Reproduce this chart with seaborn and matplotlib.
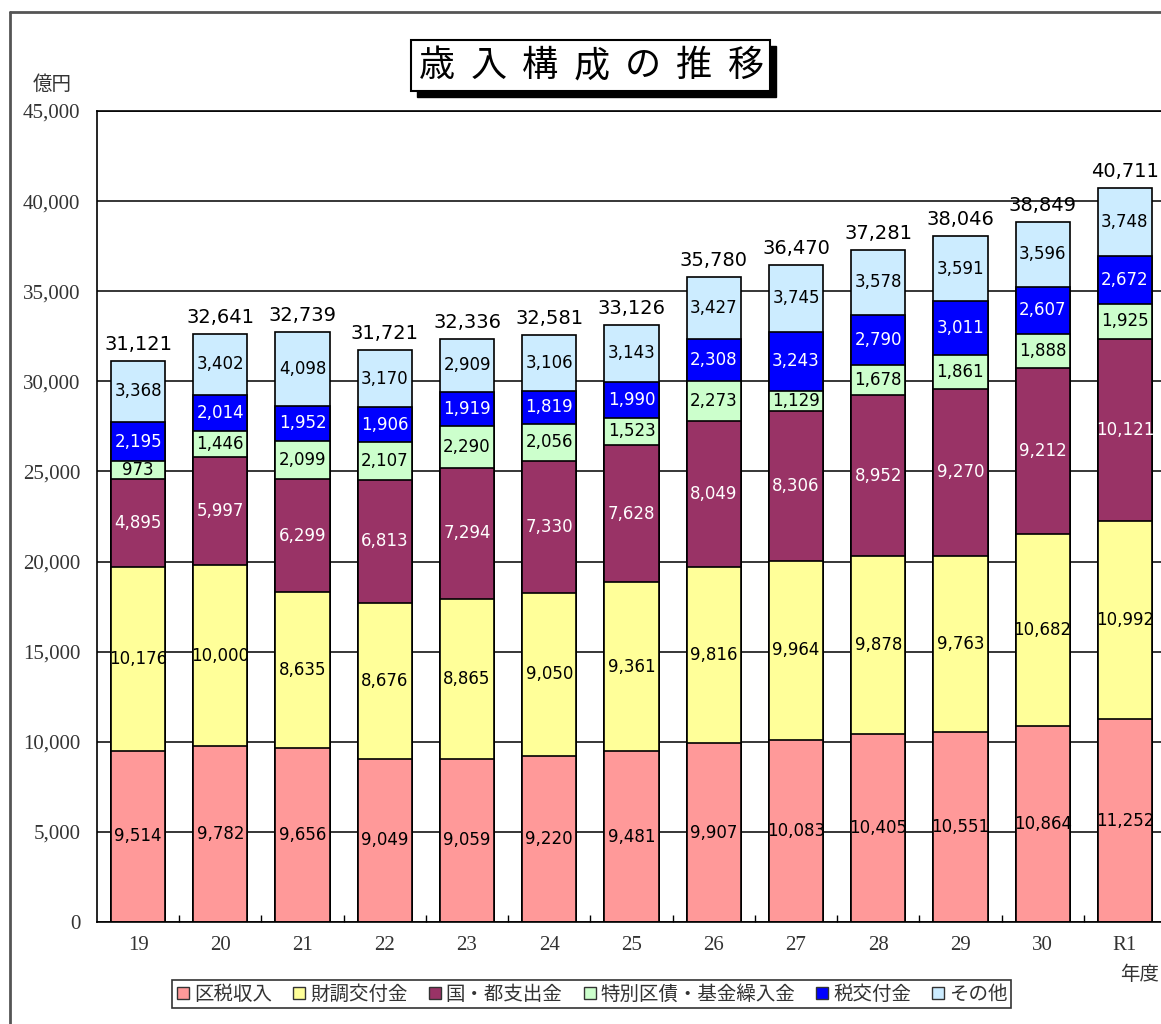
import numpy as np
import pandas as pd
import matplotlib
matplotlib.use('Agg')
import matplotlib.pyplot as plt
import seaborn as sns
from matplotlib.patches import Rectangle
from matplotlib.lines import Line2D
from matplotlib.ticker import FuncFormatter

years = ['19', '20', '21', '22', '23', '24', '25', '26', '27', '28', '29', '30', 'R1']
kuzei = [9514, 9782, 9656, 9049, 9059, 9220, 9481, 9907, 10083, 10405, 10551, 10864, 11252]
zaicho = [10176, 10000, 8635, 8676, 8865, 9050, 9361, 9816, 9964, 9878, 9763, 10682, 10992]
kokuto = [4895, 5997, 6299, 6813, 7294, 7330, 7628, 8049, 8306, 8952, 9270, 9212, 10121]
tokubetsu = [973, 1446, 2099, 2107, 2290, 2056, 1523, 2273, 1129, 1678, 1861, 1888, 1925]
zeikofu = [2195, 2014, 1952, 1906, 1919, 1819, 1990, 2308, 3243, 2790, 3011, 2607, 2672]
sonota = [3368, 3402, 4098, 3170, 2909, 3106, 3143, 3427, 3745, 3578, 3591, 3596, 3748]
totals = [31121, 32641, 32739, 31721, 32336, 32581, 33126, 35780, 36470, 37281, 38046, 38849, 40711]

series_names = ['区税収入', '財調交付金', '国・都支出金', '特別区債・基金繰入金', '税交付金', 'その他']
colors = ['#FF9999', '#FFFF99', '#993366', '#CCFFCC', '#0000FF', '#CCECFF']
label_colors = ['black', 'black', 'white', 'black', 'white', 'black']
title = '歳入構成の推移'

df = pd.DataFrame({'年度': years})
for name, vals in zip(series_names, [kuzei, zaicho, kokuto, tokubetsu, zeikofu, sonota]):
    df[name] = vals
cum = df[series_names].cumsum(axis=1)

sns.set_theme(style='white')
plt.rcParams['font.family'] = ['DejaVu Sans', 'Noto Sans CJK JP']
jp = ['Noto Sans CJK JP', 'DejaVu Sans']

W, H = 1161, 1024
fig = plt.figure(figsize=(W / 100, H / 100), dpi=100)
ax = fig.add_axes([97 / W, 1 - 922 / H, 1069 / W, 811 / H])

# stacked bars: draw cumulative totals from top layer down
for i in reversed(range(len(series_names))):
    name = series_names[i]
    sns.barplot(x=df['年度'], y=cum[name], color=colors[i], saturation=1,
                width=0.66, edgecolor='black', linewidth=1.2, ax=ax, zorder=2)

# segment labels
for i, name in enumerate(series_names):
    bottoms = cum[name] - df[name]
    for j in range(len(years)):
        ax.text(j, bottoms[j] + df[name][j] / 2, f'{df[name][j]:,}',
                ha='center', va='center', fontsize=12, color=label_colors[i], zorder=5)

# totals
for j, t in enumerate(totals):
    ax.annotate(f'{t:,}', (j, t), xytext=(0, 5), textcoords='offset points',
                ha='center', va='bottom', fontsize=14, color='black')

ax.set_ylim(0, 45000)
ax.set_xlim(-0.5, len(years) - 0.5)
ax.set_yticks(np.arange(0, 45001, 5000))
ax.yaxis.set_major_formatter(FuncFormatter(lambda v, p: f'{int(v):,}'))
ax.set_xlabel('')
ax.set_ylabel('')
ax.grid(axis='y', color='black', linewidth=1.1)
ax.set_axisbelow(True)
for s in ax.spines.values():
    s.set_color('black')
    s.set_linewidth(1.2)

ax.set_xticks(np.arange(0.5, len(years) - 1, 1), minor=True)
ax.tick_params(axis='x', which='major', length=0, pad=10)
ax.tick_params(axis='x', which='minor', direction='in', length=5, width=1, color='black', bottom=True)
ax.tick_params(axis='y', length=0, pad=12)
for lab in ax.get_xticklabels() + ax.get_yticklabels():
    lab.set_fontfamily('Liberation Serif')
    lab.set_fontsize(15)
    lab.set_color('#333333')

# units
fig.text(52 / W, 1 - 84 / H, '億円', ha='center', va='center', fontsize=14,
         family=jp, color='#333333')
fig.text(1140 / W, 1 - 975 / H, '年度', ha='center', va='center', fontsize=14,
         family=jp, color='#333333')

# title box with shadow
fig.add_artist(Rectangle((417 / W, 1 - 97 / H), 359 / W, 51 / H, transform=fig.transFigure,
                         facecolor='black', edgecolor='black'))
fig.add_artist(Rectangle((411 / W, 1 - 91 / H), 359 / W, 51 / H, transform=fig.transFigure,
                         facecolor='white', edgecolor='black', linewidth=1.5))
for k, ch in enumerate(title):
    fig.text((437 + k * 51.5) / W, 1 - 66 / H, ch, ha='center', va='center', fontsize=26,
             family=jp, color='black')

# outer frame
fig.add_artist(Line2D([10 / W, 10 / W], [0, 1 - 12 / H], transform=fig.transFigure,
                      color='#555555', linewidth=2))
fig.add_artist(Line2D([10 / W, 1], [1 - 12 / H, 1 - 12 / H], transform=fig.transFigure,
                      color='#555555', linewidth=2))

# legend
handles = [Line2D([], [], marker='s', linestyle='none', markerfacecolor=c,
                  markeredgecolor='#333333', markersize=8) for c in colors]
leg = fig.legend(handles, series_names, loc='center', bbox_to_anchor=(591.5 / W, 1 - 994 / H),
                 ncol=6, frameon=True, fancybox=False, edgecolor='black',
                 handlelength=0.8, handletextpad=0.15, columnspacing=1.0, borderpad=0.2,
                 prop={'family': jp, 'size': 14})
leg.get_frame().set_linewidth(1.2)
for t in leg.get_texts():
    t.set_color('#333333')

fig.savefig('out.png', dpi=100)
